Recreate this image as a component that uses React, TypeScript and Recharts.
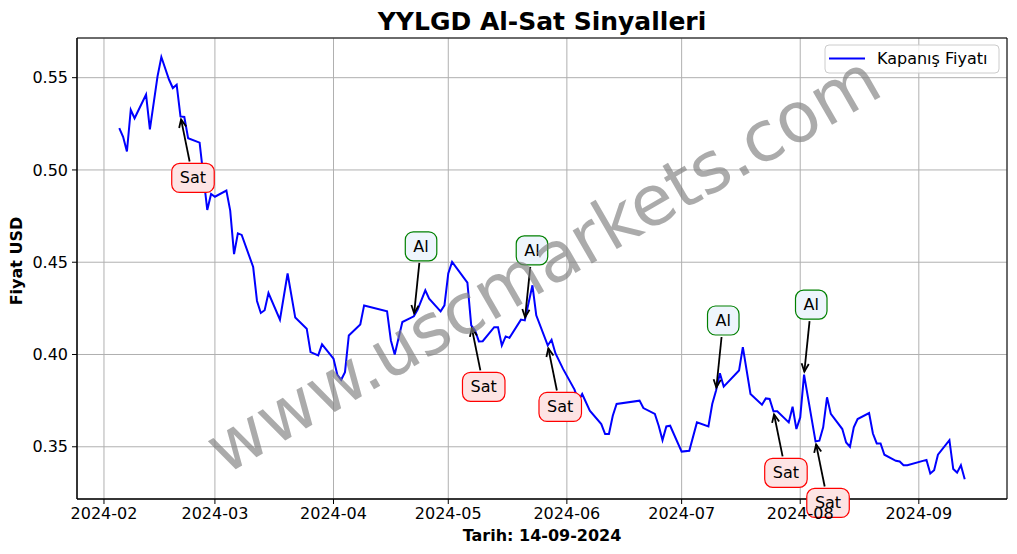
import React from 'react'
import {
  LineChart,
  Line,
  XAxis,
  YAxis,
  CartesianGrid,
  ReferenceArea,
  ReferenceDot,
} from 'recharts'

// closing prices
const dates = [
  '2024-02-05', '2024-02-06', '2024-02-07', '2024-02-08', '2024-02-09', '2024-02-12', '2024-02-13',
  '2024-02-15', '2024-02-16', '2024-02-18', '2024-02-19', '2024-02-20', '2024-02-21', '2024-02-22',
  '2024-02-23', '2024-02-26', '2024-02-28', '2024-02-29', '2024-03-01', '2024-03-04', '2024-03-05',
  '2024-03-06', '2024-03-07', '2024-03-08', '2024-03-11', '2024-03-12', '2024-03-13', '2024-03-14',
  '2024-03-15', '2024-03-18', '2024-03-20', '2024-03-22', '2024-03-25', '2024-03-26', '2024-03-28',
  '2024-03-29', '2024-04-01', '2024-04-02', '2024-04-03', '2024-04-04', '2024-04-05', '2024-04-08',
  '2024-04-09', '2024-04-15', '2024-04-16', '2024-04-17', '2024-04-19', '2024-04-22', '2024-04-23',
  '2024-04-25', '2024-04-26', '2024-04-29', '2024-04-30', '2024-05-01', '2024-05-02', '2024-05-06',
  '2024-05-07', '2024-05-08', '2024-05-09', '2024-05-10', '2024-05-13', '2024-05-14', '2024-05-15',
  '2024-05-16', '2024-05-17', '2024-05-20', '2024-05-21', '2024-05-23', '2024-05-24', '2024-05-27',
  '2024-05-28', '2024-05-29', '2024-05-31', '2024-06-03', '2024-06-04', '2024-06-05', '2024-06-07',
  '2024-06-10', '2024-06-11', '2024-06-12', '2024-06-13', '2024-06-14', '2024-06-20', '2024-06-21',
  '2024-06-24', '2024-06-25', '2024-06-26', '2024-06-27', '2024-06-28', '2024-07-01', '2024-07-03',
  '2024-07-05', '2024-07-08', '2024-07-09', '2024-07-10', '2024-07-11', '2024-07-12', '2024-07-16',
  '2024-07-17', '2024-07-19', '2024-07-22', '2024-07-23', '2024-07-24', '2024-07-25', '2024-07-26',
  '2024-07-29', '2024-07-30', '2024-07-31', '2024-08-01', '2024-08-02', '2024-08-05', '2024-08-06',
  '2024-08-07', '2024-08-08', '2024-08-09', '2024-08-12', '2024-08-13', '2024-08-14', '2024-08-15',
  '2024-08-16', '2024-08-19', '2024-08-20', '2024-08-21', '2024-08-22', '2024-08-23', '2024-08-26',
  '2024-08-27', '2024-08-28', '2024-08-29', '2024-09-03', '2024-09-04', '2024-09-05', '2024-09-06',
  '2024-09-09', '2024-09-10', '2024-09-11', '2024-09-12', '2024-09-13',
]

const closes = [
  0.5227, 0.518, 0.51, 0.5326, 0.528, 0.5408, 0.522,
  0.5507, 0.5612, 0.549, 0.5444, 0.5462, 0.529, 0.5287,
  0.5172, 0.5148, 0.4783, 0.487, 0.4855, 0.4888, 0.478,
  0.4544, 0.4656, 0.4648, 0.4474, 0.429, 0.4225, 0.424,
  0.4333, 0.4189, 0.4439, 0.42, 0.414, 0.4013, 0.3995,
  0.4055, 0.3977, 0.389, 0.3863, 0.3904, 0.4103, 0.4163,
  0.4266, 0.4234, 0.4076, 0.4, 0.4176, 0.4207, 0.4243,
  0.4348, 0.4303, 0.4234, 0.4266, 0.4439, 0.4502, 0.4389,
  0.4158, 0.413, 0.4071, 0.4072, 0.4148, 0.4148, 0.4049,
  0.4098, 0.409, 0.4189, 0.4185, 0.4375, 0.4212, 0.4049,
  0.408, 0.4007, 0.3922, 0.381, 0.375, 0.3786, 0.3696,
  0.3623, 0.3569, 0.3569, 0.3668, 0.3732, 0.375, 0.371,
  0.3678, 0.3614, 0.3536, 0.361, 0.3614, 0.3474, 0.3478,
  0.3632, 0.361, 0.3732, 0.3805, 0.3898, 0.3826, 0.3913,
  0.404, 0.3786, 0.3728, 0.3762, 0.3759, 0.3692, 0.3692,
  0.3632, 0.3717, 0.3596, 0.3659, 0.3891, 0.3529, 0.3533,
  0.3605, 0.3768, 0.3678, 0.3596, 0.3523, 0.35, 0.3605,
  0.365, 0.3683, 0.3572, 0.3518, 0.3518, 0.3457, 0.3424,
  0.342, 0.34, 0.34, 0.3429, 0.3355, 0.3373, 0.3457,
  0.3536, 0.3379, 0.336, 0.34, 0.3324,
]

const buyDates = ['2024-04-22', '2024-05-21', '2024-07-10', '2024-08-02']
const sellDates = ['2024-02-21', '2024-05-07', '2024-05-27', '2024-07-25', '2024-08-05']

const monthTicks = [
  '2024-02-01', '2024-03-01', '2024-04-01', '2024-05-01',
  '2024-06-01', '2024-07-01', '2024-08-01', '2024-09-01',
]
const yTicks = [0.35, 0.4, 0.45, 0.5, 0.55]

const toTs = (s: string) => Date.parse(s + 'T00:00:00Z')
const data = dates.map((d, i) => ({ t: toTs(d), close: closes[i] }))
const closeOn = (d: string) => closes[dates.indexOf(d)]

const tStart = toTs(dates[0])
const tEnd = toTs(dates[dates.length - 1])
const xPad = (tEnd - tStart) * 0.05
const xDomain: [number, number] = [tStart - xPad, tEnd + xPad]
const yDomain: [number, number] = [0.3217, 0.5715]

const FONT = '"DejaVu Sans", sans-serif'

function Signal({ cx, cy, kind }: { cx: number; cy: number; kind: 'Al' | 'Sat' }) {
  const isBuy = kind === 'Al'
  const w = isBuy ? 31.5 : 42.5
  const h = 29
  const bx = cx + (isBuy ? 7.2 : 12.5)
  const by = cy + (isBuy ? -70 : 61.5)
  const dx = cx - bx
  const dy = cy - by
  const len = Math.hypot(dx, dy)
  const ux = dx / len
  const uy = dy / len
  const edge = Math.min(w / 2 / Math.max(Math.abs(ux), 1e-6), h / 2 / Math.max(Math.abs(uy), 1e-6))
  const sx = bx + ux * (edge + 2)
  const sy = by + uy * (edge + 2)
  const ex = cx - ux * 3
  const ey = cy - uy * 3
  const hl = 8
  const hw = 3.6
  const px = -uy
  const py = ux
  const a1 = `${ex - ux * hl + px * hw},${ey - uy * hl + py * hw}`
  const a2 = `${ex - ux * hl - px * hw},${ey - uy * hl - py * hw}`
  return (
    <g>
      <line x1={sx} y1={sy} x2={ex} y2={ey} stroke="#000" strokeWidth={1.8} />
      <polyline points={`${a1} ${ex},${ey} ${a2}`} fill="none" stroke="#000" strokeWidth={1.8} />
      <rect
        x={bx - w / 2}
        y={by - h / 2}
        width={w}
        height={h}
        rx={8}
        ry={8}
        fill={isBuy ? '#eef5fc' : '#fde4e4'}
        stroke={isBuy ? '#008000' : '#ff0000'}
        strokeWidth={1.2}
      />
      <text
        x={bx}
        y={by}
        textAnchor="middle"
        dominantBaseline="central"
        fontSize={16}
        fontFamily={FONT}
        fill="#000"
      >
        {kind}
      </text>
    </g>
  )
}

export default function App() {
  return (
    <div style={{ position: 'absolute', left: 0, top: 0, width: 1017, height: 554, background: '#fff', fontFamily: FONT }}>
      <LineChart width={1017} height={554} data={data} margin={{ top: 38, right: 10, bottom: 0, left: 0 }}>
        <CartesianGrid stroke="#b0b0b0" strokeWidth={1} />
        <XAxis
          dataKey="t"
          type="number"
          domain={xDomain}
          allowDataOverflow
          ticks={monthTicks.map(toTs)}
          tickFormatter={(v: number) => new Date(v).toISOString().slice(0, 7)}
          height={55}
          tickSize={5}
          tickMargin={4}
          stroke="#000"
          tick={{ fill: '#000', fontSize: 16, fontFamily: FONT }}
        />
        <YAxis
          type="number"
          domain={yDomain}
          allowDataOverflow
          ticks={yTicks}
          tickFormatter={(v: number) => v.toFixed(2)}
          width={77}
          tickSize={5}
          tickMargin={4}
          stroke="#000"
          tick={{ fill: '#000', fontSize: 16, fontFamily: FONT }}
        />
        <ReferenceArea
          x1={xDomain[0]}
          x2={xDomain[1]}
          y1={yDomain[0]}
          y2={yDomain[1]}
          fill="none"
          fillOpacity={0}
          stroke="#000"
          strokeWidth={1}
        />
        <Line
          dataKey="close"
          type="linear"
          stroke="#0000ff"
          strokeWidth={2}
          dot={false}
          isAnimationActive={false}
        />
        {sellDates.map(d => (
          <ReferenceDot
            key={'s' + d}
            x={toTs(d)}
            y={closeOn(d)}
            r={0}
            shape={(p: any) => <Signal cx={p.cx} cy={p.cy} kind="Sat" />}
          />
        ))}
        {buyDates.map(d => (
          <ReferenceDot
            key={'b' + d}
            x={toTs(d)}
            y={closeOn(d)}
            r={0}
            shape={(p: any) => <Signal cx={p.cx} cy={p.cy} kind="Al" />}
          />
        ))}
      </LineChart>

      {/* title, axis labels, legend and watermark laid over the plot */}
      <svg
        width={1017}
        height={554}
        style={{ position: 'absolute', left: 0, top: 0, pointerEvents: 'none' }}
      >
        <text x={542} y={30} textAnchor="middle" fontSize={25} fontWeight="bold" fontFamily={FONT} fill="#000">
          YYLGD Al-Sat Sinyalleri
        </text>
        <text x={542} y={541} textAnchor="middle" fontSize={16} fontWeight="bold" fontFamily={FONT} fill="#000">
          Tarih: 14-09-2024
        </text>
        <text
          x={0}
          y={0}
          transform="translate(22,261) rotate(-90)"
          textAnchor="middle"
          fontSize={16}
          fontWeight="bold"
          fontFamily={FONT}
          fill="#000"
        >
          Fiyat USD
        </text>
        <g>
          <rect x={825} y={45} width={174} height={28} rx={4} fill="#fff" fillOpacity={0.8} stroke="#cccccc" />
          <line x1={829} y1={58.5} x2={865} y2={58.5} stroke="#0000ff" strokeWidth={2} />
          <text x={877} y={64} fontSize={16} fontFamily={FONT} fill="#000">
            Kapanış Fiyatı
          </text>
        </g>
        <text
          x={0}
          y={0}
          transform="translate(543,264) rotate(-30)"
          textAnchor="middle"
          dominantBaseline="central"
          fontSize={70}
          fontFamily={FONT}
          fill="#808080"
          fillOpacity={0.66}
        >
          www.uscmarkets.com
        </text>
      </svg>
    </div>
  )
}
